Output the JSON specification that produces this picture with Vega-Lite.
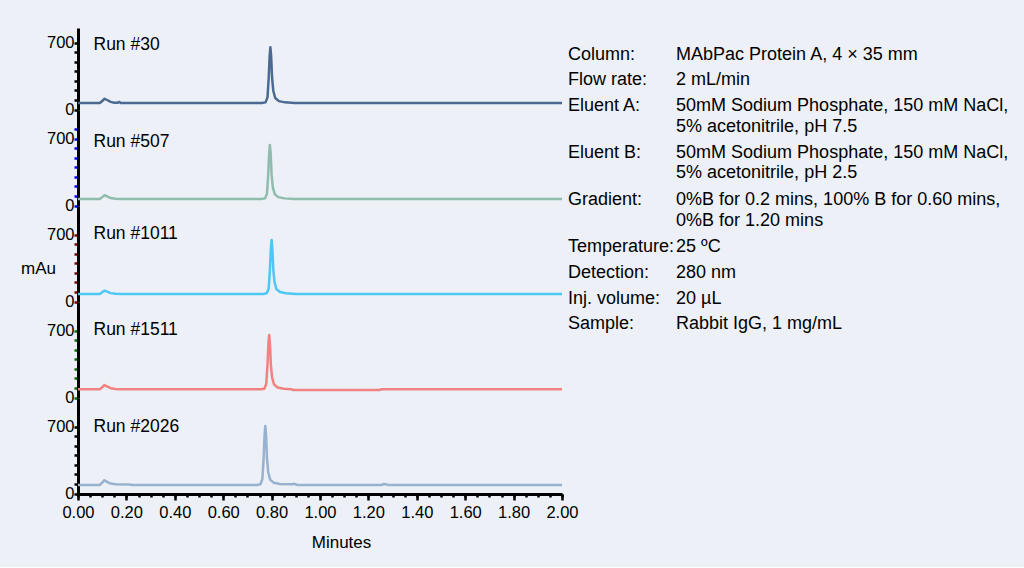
{
"$schema": "https://vega.github.io/schema/vega-lite/v6.json",
"background": "#EDF0F6",
"padding": {"left": 20, "top": 28, "right": 18, "bottom": 16},
"config": {"font": "Liberation Sans", "view": {"stroke": null}},
"datasets": {
"runs": [
{"run":"30","t":0,"mAu":68},{"run":"30","t":0.09,"mAu":68},{"run":"30","t":0.1,"mAu":90},{"run":"30","t":0.11,"mAu":113},{"run":"30","t":0.12,"mAu":100},{"run":"30","t":0.135,"mAu":80},{"run":"30","t":0.15,"mAu":72},{"run":"30","t":0.163,"mAu":70},{"run":"30","t":0.17,"mAu":80},{"run":"30","t":0.177,"mAu":68},{"run":"30","t":0.76,"mAu":68},{"run":"30","t":0.775,"mAu":75},{"run":"30","t":0.783,"mAu":127},{"run":"30","t":0.788,"mAu":331},{"run":"30","t":0.792,"mAu":565},{"run":"30","t":0.795,"mAu":653},{"run":"30","t":0.798,"mAu":565},{"run":"30","t":0.802,"mAu":331},{"run":"30","t":0.807,"mAu":197},{"run":"30","t":0.815,"mAu":121},{"run":"30","t":0.83,"mAu":88},{"run":"30","t":0.855,"mAu":75},{"run":"30","t":0.895,"mAu":68},{"run":"30","t":2,"mAu":68},
{"run":"507","t":0,"mAu":68},{"run":"507","t":0.09,"mAu":68},{"run":"507","t":0.1,"mAu":88},{"run":"507","t":0.11,"mAu":108},{"run":"507","t":0.12,"mAu":96},{"run":"507","t":0.135,"mAu":78},{"run":"507","t":0.155,"mAu":70},{"run":"507","t":0.18,"mAu":68},{"run":"507","t":0.758,"mAu":68},{"run":"507","t":0.773,"mAu":75},{"run":"507","t":0.781,"mAu":125},{"run":"507","t":0.786,"mAu":324},{"run":"507","t":0.79,"mAu":551},{"run":"507","t":0.793,"mAu":636},{"run":"507","t":0.796,"mAu":551},{"run":"507","t":0.8,"mAu":324},{"run":"507","t":0.805,"mAu":193},{"run":"507","t":0.813,"mAu":119},{"run":"507","t":0.828,"mAu":88},{"run":"507","t":0.853,"mAu":75},{"run":"507","t":0.893,"mAu":68},{"run":"507","t":2,"mAu":68},
{"run":"1011","t":0,"mAu":79},{"run":"1011","t":0.09,"mAu":79},{"run":"1011","t":0.1,"mAu":97},{"run":"1011","t":0.11,"mAu":114},{"run":"1011","t":0.12,"mAu":104},{"run":"1011","t":0.135,"mAu":88},{"run":"1011","t":0.155,"mAu":81},{"run":"1011","t":0.18,"mAu":79},{"run":"1011","t":0.765,"mAu":79},{"run":"1011","t":0.78,"mAu":86},{"run":"1011","t":0.788,"mAu":136},{"run":"1011","t":0.793,"mAu":334},{"run":"1011","t":0.797,"mAu":561},{"run":"1011","t":0.8,"mAu":646},{"run":"1011","t":0.803,"mAu":561},{"run":"1011","t":0.807,"mAu":334},{"run":"1011","t":0.812,"mAu":204},{"run":"1011","t":0.82,"mAu":130},{"run":"1011","t":0.835,"mAu":99},{"run":"1011","t":0.86,"mAu":86},{"run":"1011","t":0.9,"mAu":79},{"run":"1011","t":2,"mAu":79},
{"run":"1511","t":0,"mAu":86},{"run":"1511","t":0.09,"mAu":86},{"run":"1511","t":0.1,"mAu":108},{"run":"1511","t":0.11,"mAu":131},{"run":"1511","t":0.12,"mAu":116},{"run":"1511","t":0.135,"mAu":98},{"run":"1511","t":0.155,"mAu":89},{"run":"1511","t":0.18,"mAu":86},{"run":"1511","t":0.755,"mAu":86},{"run":"1511","t":0.77,"mAu":93},{"run":"1511","t":0.778,"mAu":143},{"run":"1511","t":0.783,"mAu":343},{"run":"1511","t":0.787,"mAu":571},{"run":"1511","t":0.79,"mAu":657},{"run":"1511","t":0.793,"mAu":571},{"run":"1511","t":0.797,"mAu":343},{"run":"1511","t":0.802,"mAu":212},{"run":"1511","t":0.81,"mAu":137},{"run":"1511","t":0.825,"mAu":106},{"run":"1511","t":0.85,"mAu":93},{"run":"1511","t":0.88,"mAu":88},{"run":"1511","t":0.89,"mAu":79},{"run":"1511","t":1.245,"mAu":79},{"run":"1511","t":1.255,"mAu":86},{"run":"1511","t":2,"mAu":86},
{"run":"2026","t":0,"mAu":90},{"run":"2026","t":0.09,"mAu":90},{"run":"2026","t":0.1,"mAu":115},{"run":"2026","t":0.109,"mAu":140},{"run":"2026","t":0.12,"mAu":122},{"run":"2026","t":0.135,"mAu":104},{"run":"2026","t":0.155,"mAu":97},{"run":"2026","t":0.215,"mAu":95},{"run":"2026","t":0.225,"mAu":90},{"run":"2026","t":0.739,"mAu":90},{"run":"2026","t":0.754,"mAu":97},{"run":"2026","t":0.762,"mAu":152},{"run":"2026","t":0.767,"mAu":369},{"run":"2026","t":0.771,"mAu":616},{"run":"2026","t":0.774,"mAu":709},{"run":"2026","t":0.777,"mAu":616},{"run":"2026","t":0.781,"mAu":369},{"run":"2026","t":0.786,"mAu":226},{"run":"2026","t":0.794,"mAu":146},{"run":"2026","t":0.809,"mAu":112},{"run":"2026","t":0.834,"mAu":100},{"run":"2026","t":0.885,"mAu":97},{"run":"2026","t":0.895,"mAu":102},{"run":"2026","t":0.905,"mAu":90},{"run":"2026","t":1.255,"mAu":90},{"run":"2026","t":1.262,"mAu":100},{"run":"2026","t":1.272,"mAu":98},{"run":"2026","t":1.28,"mAu":90},{"run":"2026","t":2,"mAu":90}
],
"labels": [
{"run":"30","t":0.064,"mAu":677,"label":"Run #30"},
{"run":"507","t":0.064,"mAu":670,"label":"Run #507"},
{"run":"1011","t":0.064,"mAu":709,"label":"Run #1011"},
{"run":"1511","t":0.064,"mAu":709,"label":"Run #1511"},
{"run":"2026","t":0.064,"mAu":699,"label":"Run #2026"}
],
"info": [
{"key":"Column:","value":"MAbPac Protein A, 4 × 35 mm","line":0},
{"key":"Flow rate:","value":"2 mL/min","line":1.02},
{"key":"Eluent A:","value":"50mM Sodium Phosphate, 150 mM NaCl,","line":2.09},
{"key":"","value":"5% acetonitrile, pH 7.5","line":2.94},
{"key":"Eluent B:","value":"50mM Sodium Phosphate, 150 mM NaCl,","line":3.99},
{"key":"","value":"5% acetonitrile, pH 2.5","line":4.84},
{"key":"Gradient:","value":"0%B for 0.2 mins, 100% B for 0.60 mins,","line":5.93},
{"key":"","value":"0%B for 1.20 mins","line":6.78},
{"key":"Temperature:","value":"25 ºC","line":7.84},
{"key":"Detection:","value":"280 nm","line":8.91},
{"key":"Inj. volume:","value":"20 µL","line":9.99},
{"key":"Sample:","value":"Rabbit IgG, 1 mg/mL","line":11.01}
]
},
"spacing": 0,
"bounds": "flush",
"vconcat": [
{
"width": 484, "height": 82,
"resolve": {"scale": {"x": "independent", "y": "independent"}},
"layer": [
{"layer": [
{"data": {"name": "runs"}, "transform": [{"filter": "datum.run == '30'"}],
 "mark": {"type": "line", "color": "#4a6a92", "strokeWidth": 2.5, "strokeJoin": "round"},
 "encoding": {
  "x": {"field": "t", "type": "quantitative", "scale": {"domain": [0, 2], "nice": false}, "axis": null},
  "y": {"field": "mAu", "type": "quantitative", "scale": {"domain": [-5, 855], "nice": false, "zero": false},
        "axis": {"values": [0,100,200,300,400,500,600,700], "labelExpr": "datum.value == 0 || datum.value == 700 ? datum.label : ''", "tickColor": "black", "tickSize": 4, "tickWidth": 2.5, "domainColor": "black", "domainWidth": 3, "labelFontSize": 16.5, "labelPadding": 0, "labelColor": "black", "labelOverlap": false, "title": null, "grid": false}}
 }},
{"data": {"name": "labels"}, "transform": [{"filter": "datum.run == '30'"}],
 "mark": {"type": "text", "align": "left", "baseline": "middle", "fontSize": 17.5, "color": "black"},
 "encoding": {"x": {"field": "t", "type": "quantitative", "axis": null},
  "y": {"field": "mAu", "type": "quantitative", "axis": {"values": [0,100,200,300,400,500,600,700], "labelExpr": "datum.value == 0 || datum.value == 700 ? datum.label : ''", "tickColor": "black", "tickSize": 4, "tickWidth": 2.5, "domainColor": "black", "domainWidth": 3, "labelFontSize": 16.5, "labelPadding": 0, "labelColor": "black", "labelOverlap": false, "title": null, "grid": false}},
  "text": {"field": "label"}}}
]},
{"data": {"name": "info"},
 "encoding": {"y": {"field": "line", "type": "quantitative", "scale": {"domain": [-1.104, 2.25], "reverse": true, "nice": false, "zero": false}, "axis": null}},
 "layer": [
 {"mark": {"type": "text", "align": "left", "baseline": "middle", "fontSize": 18, "color": "black"},
  "encoding": {"x": {"datum": 0, "type": "quantitative", "scale": {"domain": [-4.537, -0.056], "nice": false, "zero": false}, "axis": null}, "text": {"field": "key"}}},
 {"mark": {"type": "text", "align": "left", "baseline": "middle", "fontSize": 18, "color": "black"},
  "encoding": {"x": {"datum": 1, "type": "quantitative", "axis": null}, "text": {"field": "value"}}}
 ]}
]
},
{
"width": 484, "height": 96,
"layer": [
{"data": {"name": "runs"}, "transform": [{"filter": "datum.run == '507'"}],
 "mark": {"type": "line", "color": "#8fbcac", "strokeWidth": 2.5, "strokeJoin": "round"},
 "encoding": {
  "x": {"field": "t", "type": "quantitative", "scale": {"domain": [0, 2], "nice": false}, "axis": null},
  "y": {"field": "mAu", "type": "quantitative", "scale": {"domain": [-5, 1002], "nice": false, "zero": false},
        "axis": {"values": [0,100,200,300,400,500,600,700,800], "labelExpr": "datum.value == 0 || datum.value == 700 ? datum.label : ''", "tickColor": "#0000ff", "tickSize": 4, "tickWidth": 2.5, "domainColor": "black", "domainWidth": 3, "labelFontSize": 16.5, "labelPadding": 0, "labelColor": "black", "labelOverlap": false, "title": null, "grid": false}}
 }},
{"data": {"name": "labels"}, "transform": [{"filter": "datum.run == '507'"}],
 "mark": {"type": "text", "align": "left", "baseline": "middle", "fontSize": 17.5, "color": "black"},
 "encoding": {"x": {"field": "t", "type": "quantitative", "axis": null},
  "y": {"field": "mAu", "type": "quantitative", "axis": {"values": [0,100,200,300,400,500,600,700,800], "labelExpr": "datum.value == 0 || datum.value == 700 ? datum.label : ''", "tickColor": "#0000ff", "tickSize": 4, "tickWidth": 2.5, "domainColor": "black", "domainWidth": 3, "labelFontSize": 16.5, "labelPadding": 0, "labelColor": "black", "labelOverlap": false, "title": null, "grid": false}},
  "text": {"field": "label"}}}
]
},
{
"width": 484, "height": 96,
"layer": [
{"data": {"name": "runs"}, "transform": [{"filter": "datum.run == '1011'"}],
 "mark": {"type": "line", "color": "#4dc8f5", "strokeWidth": 2.5, "strokeJoin": "round"},
 "encoding": {
  "x": {"field": "t", "type": "quantitative", "scale": {"domain": [0, 2], "nice": false}, "axis": null},
  "y": {"field": "mAu", "type": "quantitative", "scale": {"domain": [-5, 1002], "nice": false, "zero": false},
        "axis": {"values": [0,100,200,300,400,500,600,700], "labelExpr": "datum.value == 0 || datum.value == 700 ? datum.label : ''", "tickColor": "#800000", "tickSize": 4, "tickWidth": 2.5, "domainColor": "black", "domainWidth": 3, "labelFontSize": 16.5, "labelPadding": 0, "labelColor": "black", "labelOverlap": false, "title": "mAu", "titleAngle": 0, "titleAlign": "right", "titleBaseline": "middle", "titleFontSize": 17, "titleFontWeight": "normal", "titleColor": "black", "titlePadding": -9, "titleY": 62, "grid": false}}
 }},
{"data": {"name": "labels"}, "transform": [{"filter": "datum.run == '1011'"}],
 "mark": {"type": "text", "align": "left", "baseline": "middle", "fontSize": 17.5, "color": "black"},
 "encoding": {"x": {"field": "t", "type": "quantitative", "axis": null},
  "y": {"field": "mAu", "type": "quantitative", "axis": {"values": [0,100,200,300,400,500,600,700], "labelExpr": "datum.value == 0 || datum.value == 700 ? datum.label : ''", "tickColor": "#800000", "tickSize": 4, "tickWidth": 2.5, "domainColor": "black", "domainWidth": 3, "labelFontSize": 16.5, "labelPadding": 0, "labelColor": "black", "labelOverlap": false, "title": "mAu", "titleAngle": 0, "titleAlign": "right", "titleBaseline": "middle", "titleFontSize": 17, "titleFontWeight": "normal", "titleColor": "black", "titlePadding": -9, "titleY": 62, "grid": false}},
  "text": {"field": "label"}}}
]
},
{
"width": 484, "height": 96,
"layer": [
{"data": {"name": "runs"}, "transform": [{"filter": "datum.run == '1511'"}],
 "mark": {"type": "line", "color": "#f08282", "strokeWidth": 2.5, "strokeJoin": "round"},
 "encoding": {
  "x": {"field": "t", "type": "quantitative", "scale": {"domain": [0, 2], "nice": false}, "axis": null},
  "y": {"field": "mAu", "type": "quantitative", "scale": {"domain": [-5, 1002], "nice": false, "zero": false},
        "axis": {"values": [0,100,200,300,400,500,600,700], "labelExpr": "datum.value == 0 || datum.value == 700 ? datum.label : ''", "tickColor": "#007000", "tickSize": 4, "tickWidth": 2.5, "domainColor": "black", "domainWidth": 3, "labelFontSize": 16.5, "labelPadding": 0, "labelColor": "black", "labelOverlap": false, "title": null, "grid": false}}
 }},
{"data": {"name": "labels"}, "transform": [{"filter": "datum.run == '1511'"}],
 "mark": {"type": "text", "align": "left", "baseline": "middle", "fontSize": 17.5, "color": "black"},
 "encoding": {"x": {"field": "t", "type": "quantitative", "axis": null},
  "y": {"field": "mAu", "type": "quantitative", "axis": {"values": [0,100,200,300,400,500,600,700], "labelExpr": "datum.value == 0 || datum.value == 700 ? datum.label : ''", "tickColor": "#007000", "tickSize": 4, "tickWidth": 2.5, "domainColor": "black", "domainWidth": 3, "labelFontSize": 16.5, "labelPadding": 0, "labelColor": "black", "labelOverlap": false, "title": null, "grid": false}},
  "text": {"field": "label"}}}
]
},
{
"width": 484, "height": 96,
"resolve": {"axis": {"x": "independent"}},
"layer": [
{"data": {"name": "runs"}, "transform": [{"filter": "datum.run == '2026'"}],
 "mark": {"type": "line", "color": "#96b2ce", "strokeWidth": 2.5, "strokeJoin": "round"},
 "encoding": {
  "x": {"field": "t", "type": "quantitative", "scale": {"domain": [0, 2], "nice": false},
        "axis": {"orient": "bottom", "values": [0,0.2,0.4,0.6,0.8,1,1.2,1.4,1.6,1.8,2], "format": ".2f", "tickSize": 6, "tickWidth": 2.5, "tickColor": "black", "domainColor": "black", "domainWidth": 3, "labelFontSize": 16.5, "labelColor": "black", "labelFlush": false, "labelOverlap": false, "labelPadding": 4, "labelDx": 5, "title": "Minutes", "titleFontSize": 17, "titleFontWeight": "normal", "titleColor": "black", "titlePadding": 14, "titleX": 263, "grid": false}},
  "y": {"field": "mAu", "type": "quantitative", "scale": {"domain": [-5, 1002], "nice": false, "zero": false},
        "axis": {"values": [0,100,200,300,400,500,600,700], "labelExpr": "datum.value == 0 || datum.value == 700 ? datum.label : ''", "tickColor": "black", "tickSize": 4, "tickWidth": 2.5, "domainColor": "black", "domainWidth": 3, "labelFontSize": 16.5, "labelPadding": 0, "labelColor": "black", "labelOverlap": false, "title": null, "grid": false}}
 }},
{"data": {"name": "labels"}, "transform": [{"filter": "datum.run == '2026'"}],
 "mark": {"type": "text", "align": "left", "baseline": "middle", "fontSize": 17.5, "color": "black"},
 "encoding": {"x": {"field": "t", "type": "quantitative",
        "axis": {"orient": "bottom", "values": [0,0.05,0.1,0.15,0.2,0.25,0.3,0.35,0.4,0.45,0.5,0.55,0.6,0.65,0.7,0.75,0.8,0.85,0.9,0.95,1,1.05,1.1,1.15,1.2,1.25,1.3,1.35,1.4,1.45,1.5,1.55,1.6,1.65,1.7,1.75,1.8,1.85,1.9,1.95,2], "labels": false, "domain": false, "tickSize": 3, "tickWidth": 2.5, "tickColor": "black", "title": null, "grid": false}},
  "y": {"field": "mAu", "type": "quantitative", "axis": {"values": [0,100,200,300,400,500,600,700], "labelExpr": "datum.value == 0 || datum.value == 700 ? datum.label : ''", "tickColor": "black", "tickSize": 4, "tickWidth": 2.5, "domainColor": "black", "domainWidth": 3, "labelFontSize": 16.5, "labelPadding": 0, "labelColor": "black", "labelOverlap": false, "title": null, "grid": false}},
  "text": {"field": "label"}}}
]
}
]
}
